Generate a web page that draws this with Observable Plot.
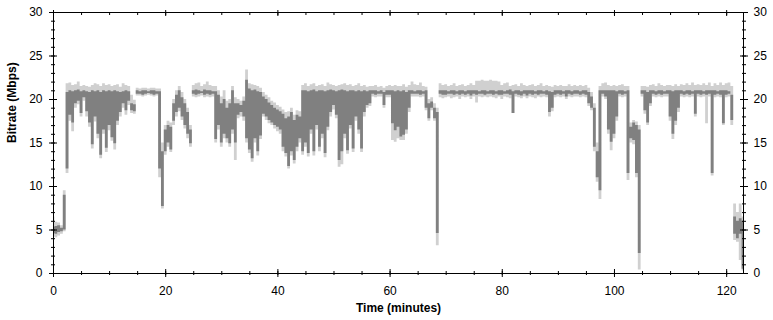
<!DOCTYPE html>
<html>
<head>
<meta charset="utf-8">
<script src="https://cdn.jsdelivr.net/npm/d3@7"></script>
<script src="https://cdn.jsdelivr.net/npm/@observablehq/plot@0.6"></script>
<style>
  html, body { margin: 0; padding: 0; background: #ffffff; }
  #chart svg { display: block; }
</style>
</head>
<body>
<div id="chart"></div>
<script>
// Sample times (minutes), one sample every half minute from 0 to 123
const minutes = d3.range(0, 123.25, 0.5);

// Dark series: lower edge of the bitrate band (Mbps)
const darkLow = [
  4.6, 4.5, 4.7, 4.8, 5.0, 12.0, 18.2, 17.3, 19.5, 19.8,
  18.4, 20.2, 18.6, 17.3, 14.8, 18.0, 16.0, 13.6, 16.5, 14.4,
  17.0, 15.6, 14.9, 17.5, 18.5, 19.5, 18.7, 19.8, 18.7, 18.6,
  20.6, 20.6, 20.5, 20.6, 20.7, 20.6, 20.5, 20.6, 12.0, 7.7,
  14.0, 15.0, 14.2, 17.5, 18.5, 19.0, 18.0, 17.0, 16.0, 14.9,
  20.6, 20.5, 20.6, 20.7, 20.5, 20.6, 20.5, 20.6, 15.4, 17.0,
  15.0, 16.0, 15.5, 14.9, 16.5, 15.0, 18.2, 18.5, 18.0, 15.5,
  14.2, 13.2, 15.5, 14.0, 15.8, 18.3, 18.0, 17.6, 17.3, 17.0,
  16.8, 16.5, 14.5, 13.8, 12.3, 14.0, 13.0, 14.5, 15.5, 14.0,
  15.0, 13.8, 16.5, 14.0, 17.0, 14.5, 16.0, 13.8, 16.8, 18.5,
  19.3, 18.2, 13.0, 14.0, 16.0, 14.1, 17.0, 14.3, 18.0, 16.5,
  14.3, 18.5, 19.3, 19.5, 20.6, 20.5, 20.6, 20.6, 19.3, 20.5,
  20.5, 17.2, 16.4, 16.8, 15.7, 15.9, 16.5, 19.0, 20.6, 20.6,
  20.6, 20.5, 20.6, 19.0, 17.8, 19.0, 17.8, 4.6, 20.6, 20.5,
  20.5, 20.6, 20.6, 20.5, 20.6, 20.5, 20.6, 20.5, 20.6, 20.4,
  20.6, 20.5, 20.6, 20.6, 20.5, 20.6, 20.6, 20.5, 20.6, 20.5,
  20.5, 20.6, 20.6, 20.5, 18.4, 20.6, 20.5, 20.4, 20.6, 20.4,
  20.6, 20.5, 20.6, 20.5, 20.6, 20.6, 20.5, 18.5, 19.0, 20.5,
  20.6, 20.5, 20.6, 20.3, 20.6, 20.5, 20.6, 20.6, 20.5, 20.6,
  20.5, 19.5, 19.0, 14.5, 11.0, 9.5, 20.6, 20.3, 16.5, 15.1,
  16.0, 18.0, 20.6, 20.5, 20.6, 11.5, 15.5, 15.3, 11.5, 2.3,
  20.6, 18.7, 17.3, 19.5, 20.6, 20.5, 20.6, 20.5, 20.6, 20.6,
  18.0, 16.0, 17.5, 19.0, 20.6, 20.5, 20.6, 20.5, 20.6, 18.3,
  20.6, 20.5, 20.6, 20.5, 20.6, 11.5, 20.5, 20.6, 20.5, 17.2,
  20.5, 20.6, 17.6, 4.5, 4.0, 4.5, 0.5
];

// Dark series: upper edge of the bitrate band (Mbps)
const darkHigh = [
  5.3, 5.4, 5.5, 5.2, 9.0, 20.8, 21.0, 20.9, 21.0, 21.1,
  20.9, 21.0, 20.9, 20.8, 21.0, 20.9, 21.0, 20.8, 21.0, 20.9,
  21.0, 20.9, 21.0, 20.9, 20.8, 20.9, 21.0, 20.9, 19.5, 19.4,
  21.0, 20.9, 21.0, 21.0, 20.9, 21.0, 21.0, 20.9, 20.9, 14.0,
  16.5, 17.0, 16.8, 19.5, 20.5, 21.0, 20.2, 19.5, 18.5, 16.5,
  21.0, 21.1, 21.0, 20.9, 21.1, 21.0, 21.0, 20.9, 20.9, 20.5,
  19.5, 20.0, 19.0, 19.5, 21.0, 19.5, 19.5, 19.3, 19.8, 22.2,
  21.2, 21.0, 21.1, 20.9, 20.8, 20.3, 20.0, 19.6, 19.3, 19.0,
  18.8, 18.6, 18.3, 17.8, 18.0, 18.5, 17.6, 18.2, 18.0, 21.0,
  21.0, 20.9, 21.0, 21.1, 20.9, 21.0, 21.0, 20.9, 21.0, 21.1,
  21.0, 20.9, 21.0, 21.1, 21.0, 20.9, 21.0, 21.0, 20.9, 21.0,
  20.9, 21.0, 20.9, 21.0, 21.0, 21.0, 20.9, 21.0, 20.8, 21.0,
  21.0, 21.0, 20.9, 21.0, 20.9, 21.0, 20.8, 21.0, 21.0, 20.9,
  21.0, 21.0, 20.9, 21.0, 19.5, 19.7, 19.0, 18.5, 21.0, 21.0,
  21.0, 20.9, 21.0, 21.0, 20.9, 21.0, 21.0, 20.9, 21.0, 21.0,
  21.0, 21.0, 20.9, 21.0, 21.0, 20.9, 21.0, 21.0, 20.9, 21.0,
  21.0, 20.9, 21.0, 21.1, 20.9, 21.0, 21.0, 20.9, 21.0, 21.0,
  21.0, 21.0, 20.9, 21.0, 21.0, 20.9, 21.0, 20.9, 20.8, 21.0,
  21.0, 21.0, 20.9, 21.0, 21.0, 20.9, 21.0, 21.0, 20.9, 21.0,
  21.0, 20.8, 20.3, 19.0, 14.0, 21.0, 21.0, 21.0, 21.0, 21.0,
  21.0, 20.9, 21.0, 21.0, 20.9, 21.0, 16.8, 17.3, 17.0, 16.5,
  21.0, 21.0, 20.8, 21.0, 21.0, 20.9, 21.0, 21.0, 20.9, 21.0,
  21.0, 20.9, 21.0, 21.0, 21.0, 20.9, 21.0, 21.0, 20.9, 21.0,
  21.0, 21.0, 20.9, 21.0, 21.0, 21.0, 21.0, 20.9, 21.0, 21.0,
  21.0, 20.9, 20.5, 6.5, 6.0, 6.3, 6.0
];

// Light series (peaks): lower edge (Mbps)
const lightLow = [
  4.2, 4.1, 4.3, 4.5, 4.8, 11.5, 17.5, 16.3, 19.0, 19.4,
  18.0, 19.8, 18.0, 16.8, 14.3, 17.4, 15.5, 13.2, 16.0, 13.9,
  16.4, 15.2, 14.2, 17.0, 18.0, 19.0, 18.2, 19.3, 18.4, 18.3,
  20.4, 20.4, 20.3, 20.4, 20.5, 20.4, 20.3, 20.4, 11.0, 7.4,
  13.6, 14.5, 13.9, 17.0, 18.0, 18.6, 17.6, 16.6, 15.5, 14.5,
  20.3, 20.2, 20.3, 20.4, 20.2, 20.3, 20.2, 20.3, 15.0, 16.5,
  14.5, 15.5, 15.0, 14.5, 16.0, 13.0, 17.8, 18.0, 17.5, 15.0,
  13.8, 12.8, 15.0, 13.5, 15.4, 18.0, 17.6, 17.2, 17.0, 16.6,
  16.3, 16.0, 14.0, 13.4, 12.0, 13.5, 12.6, 14.0, 15.0, 13.6,
  14.5, 13.4, 16.0, 13.5, 16.5, 14.0, 15.5, 13.3, 16.4, 18.0,
  18.8, 17.8, 12.2, 12.5, 15.5, 13.7, 16.6, 13.9, 17.5, 16.0,
  13.9, 18.0, 19.0, 19.2, 20.3, 20.2, 20.3, 20.3, 19.0, 20.2,
  20.2, 15.3, 15.1, 15.5, 15.3, 15.3, 16.0, 18.5, 20.3, 20.3,
  20.3, 20.2, 20.3, 18.7, 17.5, 18.7, 17.5, 3.2, 20.2, 20.1,
  20.2, 20.3, 20.1, 20.2, 20.3, 20.0, 20.3, 20.2, 20.3, 20.0,
  20.3, 19.6, 20.3, 20.2, 20.3, 20.2, 20.3, 20.2, 20.1, 20.3,
  20.0, 20.3, 20.2, 20.1, 18.4, 20.3, 20.2, 20.1, 20.3, 20.1,
  20.3, 20.2, 20.1, 20.3, 20.2, 20.3, 20.2, 18.0, 18.6, 20.2,
  20.3, 20.2, 20.3, 20.0, 20.3, 20.2, 20.3, 20.3, 20.2, 20.3,
  20.2, 19.2, 18.7, 14.0, 10.5, 8.5, 20.3, 20.0, 16.0, 14.1,
  15.5, 17.5, 20.3, 20.2, 20.3, 10.7, 15.0, 14.8, 11.0, 0.4,
  20.3, 18.3, 17.0, 19.2, 20.3, 20.2, 20.3, 20.2, 20.3, 20.3,
  17.5, 15.4, 17.0, 18.5, 20.3, 20.2, 20.3, 20.2, 20.3, 18.0,
  20.3, 20.2, 20.3, 17.2, 20.3, 11.2, 20.2, 20.3, 20.2, 17.0,
  20.2, 20.3, 17.0, 3.8, 3.6, 1.5, 0.3
];

// Light series (peaks): upper edge (Mbps)
const lightHigh = [
  6.5, 5.9, 5.8, 5.5, 9.5, 21.8, 21.9, 21.6, 21.7, 22.0,
  21.5, 21.6, 21.5, 21.4, 21.6, 21.8, 21.7, 21.5, 21.8, 21.6,
  21.7, 21.5, 21.6, 21.7, 21.4, 21.8, 21.6, 21.5, 20.5, 19.9,
  21.3, 21.2, 21.3, 21.3, 21.2, 21.3, 21.3, 21.2, 21.2, 15.0,
  17.0, 17.5, 17.3, 20.0, 21.0, 21.5, 20.8, 20.0, 19.0, 17.0,
  21.6, 21.8, 21.9, 21.5, 21.7, 22.0, 21.6, 21.5, 21.5, 21.0,
  20.3, 21.0, 19.8, 20.0, 21.5, 20.2, 20.0, 19.8, 20.3, 23.4,
  21.8, 21.7, 21.6, 21.5, 21.3, 20.8, 20.5, 20.2, 19.8, 19.6,
  19.3, 19.1, 18.8, 18.5, 18.6, 19.0, 18.2, 18.7, 18.6, 21.6,
  21.8, 21.5, 21.7, 21.8, 21.5, 21.6, 21.7, 21.5, 21.9, 21.7,
  21.6, 21.5, 21.6, 21.7, 21.8, 21.6, 21.7, 21.5, 21.6, 21.8,
  21.5, 21.6, 21.4, 21.5, 21.5, 21.6, 21.4, 21.5, 21.3, 21.5,
  21.6, 21.5, 21.6, 21.5, 21.5, 21.7, 21.4, 21.6, 22.0, 21.7,
  21.6, 21.9, 21.5, 21.4, 20.0, 20.2, 19.5, 19.0, 21.8, 21.6,
  21.7, 21.5, 21.6, 21.8, 21.5, 21.6, 21.7, 21.5, 21.6, 21.8,
  21.6, 22.1, 22.1, 22.2, 22.1, 22.1, 22.2, 22.1, 22.1, 22.0,
  21.6, 21.8, 21.9, 21.5, 21.6, 21.7, 21.5, 21.8, 21.6, 21.5,
  21.6, 21.7, 21.5, 21.6, 21.8, 21.5, 21.6, 21.5, 21.4, 21.6,
  21.5, 21.6, 21.5, 21.5, 21.7, 21.5, 21.6, 21.5, 21.6, 21.5,
  21.6, 21.3, 20.8, 19.5, 15.0, 21.5, 21.8, 21.9, 21.6, 21.5,
  21.6, 21.5, 21.6, 21.7, 21.5, 21.5, 17.3, 17.6, 17.4, 17.0,
  21.5, 21.5, 21.4, 21.6, 21.7, 21.5, 21.8, 21.6, 21.5, 21.6,
  21.6, 21.5, 21.7, 21.5, 21.7, 21.6, 21.8, 21.6, 21.9, 21.6,
  21.7, 21.6, 21.8, 21.6, 21.9, 21.5, 21.8, 21.6, 21.9, 21.6,
  21.8, 21.9, 21.5, 8.0, 7.0, 8.0, 6.5
];

// Tick values
const xTicks = [0, 20, 40, 60, 80, 100, 120];
const xMinorTicks = [0, 5, 10, 15, 20, 25, 30, 35, 40, 45, 50, 55, 60, 65, 70, 75, 80, 85, 90, 95, 100, 105, 110, 115, 120];
const yTicks = [0, 5, 10, 15, 20, 25, 30];
const yMinorTicks = [0,1,2,3,4,5,6,7,8,9,10,11,12,13,14,15,16,17,18,19,20,21,22,23,24,25,26,27,28,29,30];

const xTitle = "Time (minutes)";
const yTitle = "Bitrate (Mbps)";

const rows = minutes.map((t, i) => ({
  t, lo: darkLow[i], hi: darkHigh[i], lw: lightLow[i], pk: lightHigh[i]
}));

const chart = Plot.plot({
  width: 773,
  height: 320,
  marginLeft: 53,
  marginRight: 30,
  marginTop: 12,
  marginBottom: 47,
  x: {domain: [0, 123]},
  y: {domain: [0, 30]},
  style: {
    fontFamily: "'Liberation Sans', Arial, sans-serif",
    fontSize: "12px",
    background: "#ffffff",
    color: "#000000"
  },
  marks: [
    Plot.areaY(rows, {x: "t", y1: "lw", y2: "pk", fill: "#d0d0d0", curve: "step"}),
    Plot.areaY(rows, {x: "t", y1: "lo", y2: "hi", fill: "#808080", curve: "step"}),
    Plot.frame({stroke: "#000000"}),
    // left axis
    Plot.axisY(yMinorTicks, {anchor: "left", tickSize: 4, dx: 2, fill: "none", label: null}),
    Plot.axisY(yTicks, {anchor: "left", tickSize: 8, dx: 4, fill: "none", label: null}),
    Plot.axisY(yTicks, {anchor: "left", tickSize: 0, tickPadding: 11, stroke: "none", label: null}),
    // right axis
    Plot.axisY(yMinorTicks, {anchor: "right", tickSize: 4, dx: -2, fill: "none", label: null}),
    Plot.axisY(yTicks, {anchor: "right", tickSize: 8, dx: -4, fill: "none", label: null}),
    Plot.axisY(yTicks, {anchor: "right", tickSize: 0, tickPadding: 10, stroke: "none", label: null}),
    // bottom axis
    Plot.axisX(xMinorTicks, {anchor: "bottom", tickSize: 4, dy: -2, fill: "none", label: null}),
    Plot.axisX(xTicks, {anchor: "bottom", tickSize: 8, dy: -4, fill: "none", label: null}),
    Plot.axisX(xTicks, {anchor: "bottom", tickSize: 0, tickPadding: 13, stroke: "none", label: null}),
    // top axis (ticks only)
    Plot.axisX(xMinorTicks, {anchor: "top", tickSize: 3, dy: 2, fill: "none", label: null}),
    Plot.axisX(xTicks, {anchor: "top", tickSize: 6, dy: 3, fill: "none", label: null}),
    // axis titles
    Plot.text([xTitle], {frameAnchor: "bottom", dy: 38, text: d => d, fontWeight: "bold", fontSize: 12, fill: "#000000"}),
    Plot.text([yTitle], {frameAnchor: "left", dx: -41, rotate: -90, text: d => d, fontWeight: "bold", fontSize: 12, fill: "#000000"})
  ]
});

document.getElementById("chart").appendChild(chart);
</script>
</body>
</html>
